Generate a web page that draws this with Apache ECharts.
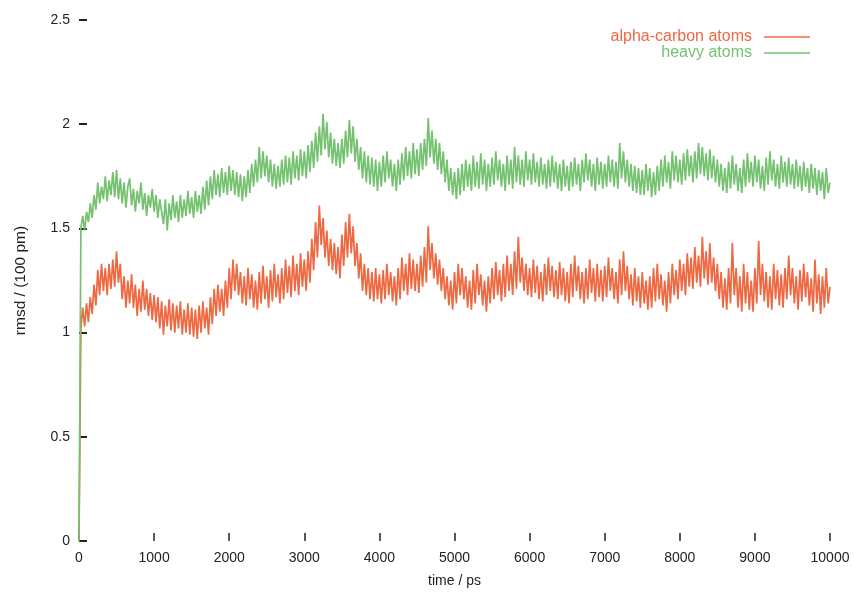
<!DOCTYPE html>
<html>
<head>
<meta charset="utf-8">
<script src="https://cdn.jsdelivr.net/npm/echarts@6/dist/echarts.min.js"></script>
<style>html,body{margin:0;padding:0;background:#fff}#c{width:854px;height:593px}</style>
</head>
<body>
<div id="c"></div>
<script>
// time step of the sampled trajectory (ps)
const timeStep = 25;
const seriesNames = ['alpha-carbon atoms', 'heavy atoms'];
const xTicks = [0,1000,2000,3000,4000,5000,6000,7000,8000,9000,10000];
const yTicks = [0,0.5,1,1.5,2,2.5];

const alphaCarbon = [
0,1.02,1.12,1.03,1.14,1.05,1.17,1.09,1.23,1.13,1.30,1.18,1.33,1.20,1.31,1.18,1.33,1.21,1.35,1.22,
1.39,1.24,1.33,1.16,1.27,1.12,1.25,1.14,1.28,1.12,1.23,1.08,1.21,1.10,1.25,1.11,1.21,1.08,1.19,1.06,
1.18,1.05,1.17,1.02,1.15,0.99,1.13,1.03,1.16,1.01,1.14,1.00,1.13,1.02,1.15,0.99,1.11,1.00,1.14,0.99,
1.12,0.98,1.11,0.97,1.13,1.00,1.15,1.02,1.12,0.99,1.17,1.04,1.21,1.08,1.23,1.10,1.21,1.08,1.25,1.12,
1.31,1.16,1.35,1.20,1.33,1.18,1.29,1.14,1.27,1.13,1.31,1.16,1.28,1.12,1.25,1.11,1.29,1.14,1.32,1.16,
1.27,1.12,1.30,1.15,1.33,1.17,1.28,1.14,1.31,1.16,1.35,1.19,1.32,1.17,1.37,1.20,1.33,1.18,1.38,1.22,
1.35,1.20,1.39,1.24,1.45,1.30,1.53,1.36,1.61,1.42,1.55,1.36,1.49,1.32,1.45,1.30,1.43,1.28,1.41,1.26,
1.47,1.32,1.53,1.36,1.57,1.38,1.51,1.32,1.43,1.26,1.38,1.20,1.33,1.18,1.31,1.16,1.29,1.15,1.31,1.16,
1.28,1.14,1.30,1.16,1.33,1.18,1.29,1.15,1.27,1.13,1.31,1.16,1.36,1.20,1.33,1.18,1.38,1.21,1.35,1.20,
1.33,1.19,1.37,1.22,1.41,1.24,1.51,1.30,1.43,1.26,1.38,1.23,1.35,1.20,1.31,1.16,1.27,1.13,1.25,1.11,
1.29,1.14,1.33,1.18,1.31,1.16,1.27,1.12,1.25,1.11,1.30,1.14,1.33,1.18,1.28,1.13,1.25,1.10,1.27,1.14,
1.31,1.16,1.34,1.18,1.30,1.15,1.33,1.17,1.37,1.20,1.33,1.18,1.39,1.21,1.46,1.24,1.36,1.20,1.33,1.18,
1.31,1.17,1.35,1.19,1.32,1.16,1.29,1.15,1.33,1.18,1.36,1.20,1.32,1.17,1.30,1.16,1.34,1.18,1.31,1.15,
1.29,1.14,1.33,1.17,1.37,1.20,1.32,1.16,1.29,1.14,1.31,1.16,1.35,1.19,1.31,1.15,1.33,1.17,1.30,1.15,
1.32,1.17,1.36,1.20,1.31,1.16,1.29,1.14,1.35,1.18,1.39,1.20,1.32,1.16,1.28,1.13,1.31,1.15,1.27,1.12,
1.29,1.14,1.25,1.11,1.27,1.12,1.31,1.15,1.33,1.16,1.28,1.13,1.25,1.10,1.29,1.14,1.33,1.18,1.30,1.16,
1.35,1.20,1.33,1.18,1.38,1.22,1.36,1.21,1.41,1.24,1.37,1.22,1.46,1.26,1.39,1.23,1.43,1.24,1.36,1.20,
1.33,1.16,1.29,1.12,1.26,1.11,1.31,1.14,1.43,1.18,1.31,1.12,1.27,1.10,1.33,1.14,1.29,1.11,1.25,1.10,
1.31,1.14,1.44,1.18,1.33,1.15,1.29,1.12,1.27,1.11,1.33,1.16,1.30,1.13,1.28,1.12,1.31,1.16,1.37,1.18,
1.31,1.14,1.27,1.11,1.30,1.15,1.33,1.17,1.29,1.13,1.26,1.10,1.35,1.14,1.28,1.09,1.27,1.12,1.31,1.14,
1.22
];

const heavyAtoms = [
0,1.50,1.56,1.49,1.58,1.53,1.62,1.55,1.66,1.59,1.72,1.62,1.70,1.64,1.75,1.63,1.73,1.66,1.77,1.65,
1.78,1.64,1.74,1.62,1.72,1.60,1.70,1.74,1.61,1.69,1.58,1.68,1.62,1.72,1.59,1.67,1.56,1.66,1.60,1.69,
1.58,1.66,1.55,1.64,1.58,1.52,1.64,1.49,1.62,1.54,1.66,1.55,1.63,1.53,1.66,1.55,1.64,1.56,1.68,1.57,
1.65,1.55,1.68,1.58,1.66,1.57,1.70,1.59,1.73,1.61,1.75,1.64,1.78,1.66,1.76,1.65,1.79,1.67,1.77,1.66,
1.80,1.68,1.78,1.66,1.77,1.65,1.76,1.63,1.75,1.65,1.78,1.67,1.81,1.70,1.83,1.72,1.89,1.74,1.87,1.75,
1.85,1.72,1.83,1.70,1.81,1.69,1.80,1.70,1.83,1.71,1.85,1.72,1.84,1.71,1.87,1.74,1.85,1.73,1.88,1.75,
1.87,1.74,1.90,1.77,1.92,1.79,1.96,1.82,1.99,1.85,2.05,1.88,2.01,1.84,1.96,1.81,1.93,1.80,1.91,1.79,
1.93,1.81,1.97,1.84,2.02,1.86,1.99,1.82,1.93,1.78,1.89,1.74,1.87,1.72,1.85,1.71,1.84,1.70,1.83,1.68,
1.82,1.70,1.85,1.72,1.87,1.74,1.83,1.70,1.81,1.68,1.83,1.71,1.86,1.73,1.89,1.75,1.87,1.74,1.91,1.76,
1.88,1.75,1.91,1.78,1.93,1.80,2.03,1.84,1.97,1.81,1.93,1.78,1.91,1.76,1.87,1.72,1.83,1.68,1.79,1.66,
1.77,1.64,1.79,1.66,1.81,1.68,1.83,1.70,1.81,1.68,1.85,1.70,1.82,1.69,1.86,1.71,1.83,1.68,1.81,1.70,
1.84,1.71,1.87,1.73,1.83,1.70,1.81,1.68,1.85,1.71,1.83,1.69,1.89,1.72,1.85,1.71,1.83,1.70,1.87,1.73,
1.83,1.71,1.86,1.72,1.82,1.70,1.84,1.71,1.81,1.69,1.83,1.70,1.85,1.72,1.82,1.69,1.81,1.68,1.83,1.70,
1.80,1.68,1.82,1.70,1.84,1.71,1.81,1.68,1.83,1.72,1.86,1.73,1.83,1.70,1.81,1.68,1.84,1.71,1.82,1.69,
1.81,1.70,1.85,1.72,1.83,1.70,1.82,1.69,1.91,1.74,1.87,1.72,1.83,1.70,1.81,1.68,1.80,1.67,1.79,1.66,
1.78,1.66,1.81,1.68,1.79,1.65,1.77,1.66,1.80,1.68,1.83,1.70,1.85,1.72,1.82,1.69,1.87,1.73,1.85,1.72,
1.83,1.71,1.86,1.73,1.88,1.75,1.85,1.72,1.87,1.74,1.91,1.76,1.89,1.75,1.86,1.73,1.88,1.74,1.85,1.72,
1.83,1.70,1.81,1.68,1.79,1.67,1.82,1.69,1.85,1.71,1.81,1.68,1.79,1.67,1.83,1.70,1.86,1.72,1.82,1.70,
1.85,1.72,1.83,1.69,1.80,1.68,1.84,1.71,1.87,1.73,1.83,1.70,1.81,1.69,1.85,1.72,1.82,1.70,1.84,1.71,
1.81,1.69,1.83,1.70,1.80,1.68,1.82,1.70,1.79,1.67,1.81,1.69,1.79,1.66,1.78,1.68,1.77,1.64,1.79,1.67,
1.72
];

const colors = ['#EE6842', '#74C16F'];
const toPairs = arr => arr.map((v, i) => [i * timeStep, v]);

const chart = echarts.init(document.getElementById('c'), null, {renderer: 'canvas'});
const font = 'Liberation Sans, Arial, sans-serif';
chart.setOption({
  animation: false,
  backgroundColor: '#ffffff',
  grid: {left: 79, right: 24, top: 20, bottom: 49, containLabel: false},
  legend: {
    orient: 'vertical',
    right: 44,
    top: 29,
    align: 'right',
    itemGap: 0,
    itemWidth: 46,
    itemHeight: 1.5,
    icon: 'rect',
    padding: 0,
    data: seriesNames.map((n, i) => ({name: n, textStyle: {color: colors[i]}})),
    textStyle: {fontFamily: font, fontSize: 16, lineHeight: 13, padding: [0, 7, 0, 0]}
  },
  xAxis: {
    type: 'value', min: 0, max: 10000, interval: 1000,
    name: 'time / ps', nameLocation: 'middle', nameGap: 33,
    nameTextStyle: {fontFamily: font, fontSize: 14, color: '#222'},
    axisLine: {show: false},
    axisTick: {show: true, inside: true, length: 8, lineStyle: {color: '#222', width: 1.5}},
    splitLine: {show: false},
    axisLabel: {fontFamily: font, fontSize: 14, color: '#222', margin: 10,
      customValues: xTicks, formatter: v => String(v)}
  },
  yAxis: {
    type: 'value', min: 0, max: 2.5, interval: 0.5,
    name: 'rmsd / (100 pm)', nameLocation: 'middle', nameGap: 50, nameRotate: 90,
    nameTextStyle: {fontFamily: font, fontSize: 15.5, color: '#222'},
    axisLine: {show: false},
    axisTick: {show: true, inside: true, length: 8, lineStyle: {color: '#222', width: 2}},
    splitLine: {show: false},
    axisLabel: {fontFamily: font, fontSize: 14, color: '#222', margin: 9,
      formatter: v => yTicks.indexOf(v) >= 0 ? String(v) : ''}
  },
  series: [
    {name: seriesNames[0], type: 'line', data: toPairs(alphaCarbon), showSymbol: false, symbol: 'none',
     sampling: null, lineStyle: {color: colors[0], width: 1.7}, itemStyle: {color: colors[0]}},
    {name: seriesNames[1], type: 'line', data: toPairs(heavyAtoms), showSymbol: false, symbol: 'none',
     sampling: null, lineStyle: {color: colors[1], width: 1.7}, itemStyle: {color: colors[1]}}
  ]
});
</script>
</body>
</html>
